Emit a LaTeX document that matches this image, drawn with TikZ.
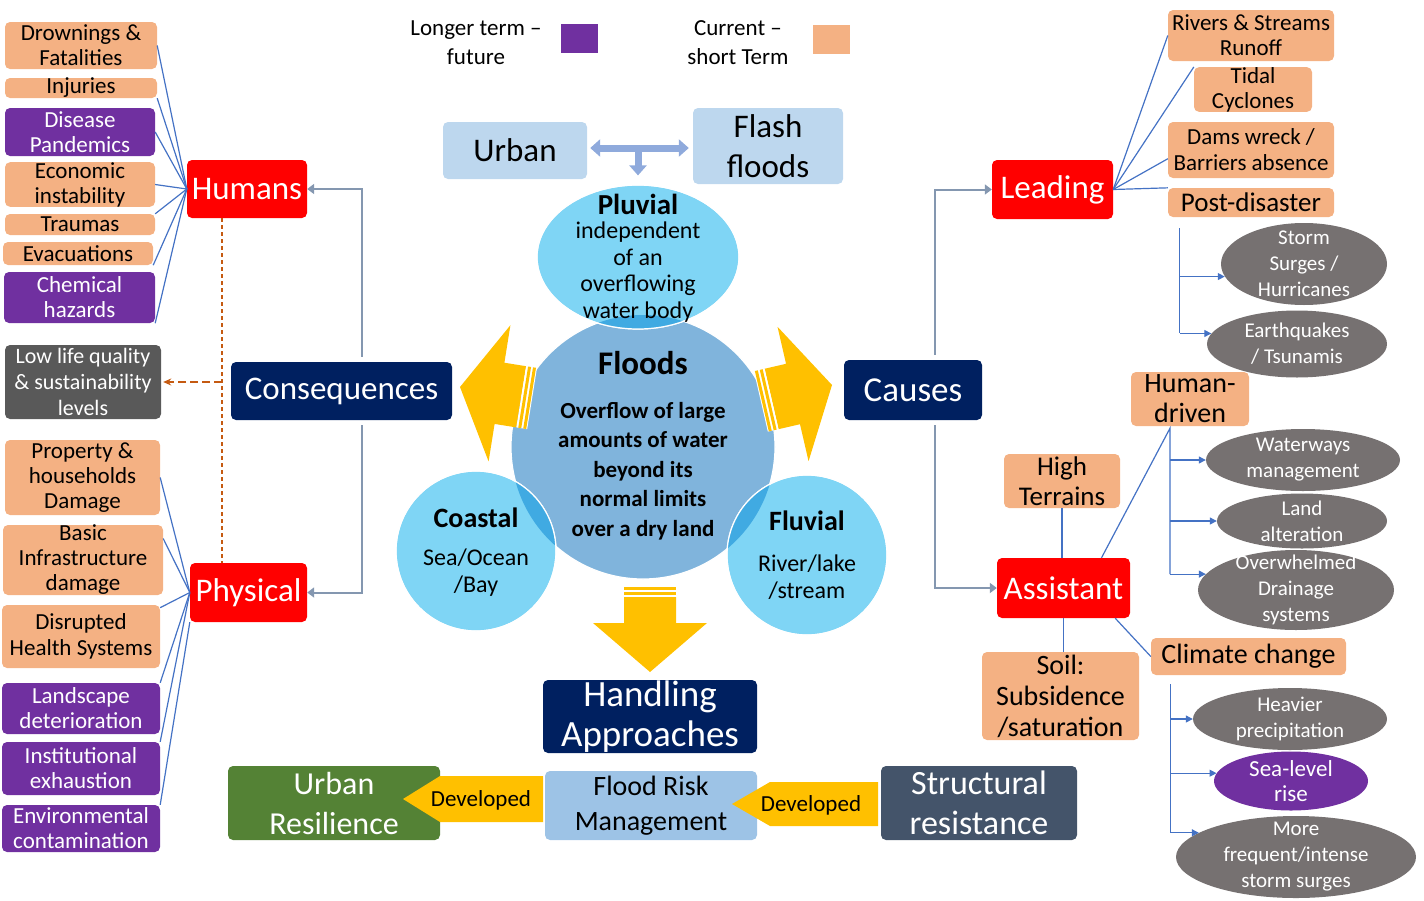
\documentclass[tikz,border=0pt]{standalone}
\usepackage{fontspec}
\setmainfont{Carlito}
\usetikzlibrary{arrows.meta,shapes.geometric}

\definecolor{curorange}{HTML}{F4B183}
\definecolor{lngpurple}{HTML}{7030A0}
\definecolor{hotred}{HTML}{FF0000}
\definecolor{deepnavy}{HTML}{002060}
\definecolor{lowgray}{HTML}{595959}
\definecolor{ellgray}{HTML}{767171}
\definecolor{resgreen}{HTML}{548235}
\definecolor{slate}{HTML}{44546A}
\definecolor{arrowyel}{HTML}{FFC000}
\definecolor{paleblue}{HTML}{BDD7EE}
\definecolor{frmblue}{HTML}{9DC3E6}
\definecolor{floodblue}{HTML}{80B4DC}
\definecolor{skyblue}{HTML}{7FD5F5}
\definecolor{overlapblue}{HTML}{40AAE2}
\definecolor{linkblue}{HTML}{4472C4}
\definecolor{linkgray}{HTML}{8497B0}
\definecolor{dashbrown}{HTML}{C55A11}
\definecolor{ufblue}{HTML}{8FAADC}

\newcommand{\fs}[2]{\fontsize{#1}{#2}\selectfont}
% yellow block arrow, tip at origin: head length, head half width, shaft half width, shaft length
\newcommand{\bigarrow}[4]{%
\fill[arrowyel] (0,0) -- (#1,-#2) -- (#1,-#3) -- (#4,-#3) -- (#4,#3) -- (#1,#3) -- (#1,#2) -- cycle;
\fill[white] (#4,-#3) rectangle ({#4+11},#3);
\fill[arrowyel] ({#4+2},-#3) rectangle ({#4+5},#3);
\fill[arrowyel] ({#4+7},-#3) rectangle ({#4+10},#3);
}

\tikzset{
box/.style={rectangle, rounded corners=5pt, inner sep=0pt, align=center},
cur/.style={box, fill=curorange, text=black, font=\fs{23}{25}},
lng/.style={box, fill=lngpurple, text=white, font=\fs{23}{25}},
hub/.style={box, fill=hotred, text=white, font=\fs{33}{40}},
head/.style={box, fill=deepnavy, text=white, font=\fs{33}{40}},
ell/.style={ellipse, inner sep=0pt, fill=ellgray},
elltxt/.style={align=center, text=white, font=\fs{21}{26}},
wet/.style={inner sep=0pt, fill=skyblue, draw=white, line width=1.2pt},
link/.style={draw=linkblue, line width=1.2pt},
blink/.style={link, -{Triangle[length=7pt,width=7pt]}},
glink/.style={draw=linkgray, line width=2pt, -{Triangle[length=7pt,width=10pt]}},
dlink/.style={draw=dashbrown, line width=1.3pt},
ufarr/.style={draw=ufblue, line width=7pt},
devtxt/.style={font=\fs{23}{25}, text=black}
}

\begin{document}
\begin{tikzpicture}[x=1pt,y=-1pt]
\useasboundingbox (0,0) rectangle (1424,900);

% legend
\node[font=\fs{23}{29}, align=center] (lglong) at (476,43) {Longer term --\\future};
\node[fill=lngpurple, minimum width=37pt, minimum height=29pt, inner sep=0pt] (sqlong) at (579.5,38.5) {};
\node[font=\fs{23}{29}, align=center] (lgcur) at (738,43) {Current --\\short Term};
\node[fill=curorange, minimum width=37pt, minimum height=29pt, inner sep=0pt] (sqcur) at (831.5,39.5) {};

% left column
\node[cur, minimum width=152pt, minimum height=47pt] (drown) at (81,45.5) {Drownings \&\\Fatalities};
\node[cur, minimum width=152pt, minimum height=20pt] (inj) at (81,88) {Injuries};
\node[lng, minimum width=150pt, minimum height=48pt] (dis) at (80,132) {Disease\\Pandemics};
\node[cur, minimum width=150pt, minimum height=43pt] (eco) at (80,184.5) {Economic\\instability};
\node[cur, minimum width=150pt, minimum height=21pt] (trau) at (80,224.5) {Traumas};
\node[cur, minimum width=150pt, minimum height=23pt] (evac) at (78,253.5) {Evacuations};
\node[lng, minimum width=151pt, minimum height=51pt] (chem) at (79.5,297.5) {Chemical\\hazards};
\node[box, fill=lowgray, text=white, font=\fs{22}{26}, minimum width=156pt, minimum height=74pt] (low) at (83,382) {Low life quality\\\& sustainability\\levels};
\node[cur, minimum width=155pt, minimum height=75pt] (prop) at (82.5,477.5) {Property \&\\households\\Damage};
\node[cur, minimum width=160pt, minimum height=70pt] (basic) at (83,560) {Basic\\Infrastructure\\damage};
\node[cur, minimum width=158pt, minimum height=63pt, font=\fs{23}{26}] (disr) at (81,636.5) {Disrupted\\Health Systems};
\node[lng, minimum width=158pt, minimum height=51pt] (land) at (81,708.5) {Landscape\\deterioration};
\node[lng, minimum width=158pt, minimum height=53pt] (inst) at (81,768.5) {Institutional\\exhaustion};
\node[lng, minimum width=158pt, minimum height=47pt] (env) at (81,828.5) {Environmental\\contamination};

\node[hub, minimum width=120pt, minimum height=58pt] (hum) at (247,189) {Humans};
\node[hub, minimum width=117pt, minimum height=59pt] (phys) at (248.5,592.5) {Physical};
\node[head, minimum width=221pt, minimum height=58pt] (cons) at (341.5,391) {Consequences};

\foreach \n in {drown.east, inj.south east, dis.east, eco.east, trau.north east, evac.south east, chem.south east}
\draw[link] (\n) -- (hum.west);
\foreach \n in {prop.east, basic.15, disr.20, land.north east, inst.north east}
\draw[link] (\n) -- (phys.west);
\draw[link] (env.north east) -- (phys.south west);

\draw[glink] ([xshift=20pt,yshift=5pt]cons.north) |- (hum.east);
\draw[glink] ([xshift=20pt,yshift=-5pt]cons.south) |- (phys.east);

\coordinate (dsh) at ([xshift=-25pt]hum.south);
\draw[dlink, dash pattern=on 4pt off 3pt] (dsh) -- (dsh |- phys.north);
\draw[dlink, dash pattern=on 8pt off 4pt, -{Stealth[length=8pt,width=7pt]}, shorten >=2pt] (dsh |- low.east) -- (low.east);

% top: urban / flash
\node[box, fill=paleblue, font=\fs{33}{40}, minimum width=144pt, minimum height=57pt] (urb) at (515,150.5) {Urban};
\node[box, fill=paleblue, font=\fs{33}{40}, minimum width=150pt, minimum height=76pt] (flash) at (768,146) {Flash\\floods};

% floods circles
\node[circle, minimum size=264pt, inner sep=0pt, fill=floodblue, draw=white, line width=1.2pt] (flood) at (643,447) {};
\node[ellipse, wet, minimum width=202pt, minimum height=144pt] (pluv) at (638,257) {};
\node[circle, wet, minimum size=160pt] (coast) at (476,551) {};
\node[circle, wet, minimum size=160pt] (fluv) at (807,555) {};
\begin{scope}
\clip (flood.center) circle[radius=132pt];
\fill[overlapblue] (pluv.center) ellipse[x radius=101pt, y radius=72pt];
\fill[overlapblue] (coast.center) circle[radius=80pt];
\fill[overlapblue] (fluv.center) circle[radius=80pt];
\end{scope}
\draw[white, line width=1.2pt] (pluv.center) ellipse[x radius=101pt, y radius=72pt];
\draw[white, line width=1.2pt] (coast.center) circle[radius=80pt];
\draw[white, line width=1.2pt] (fluv.center) circle[radius=80pt];

\coordinate (ufm) at (638,148);
\draw[ufarr, {Triangle[length=10pt,width=17pt]}-{Triangle[length=10pt,width=17pt]}, shorten <=3pt, shorten >=4pt] (urb.east |- ufm) -- (flash.west |- ufm);
\draw[ufarr, -{Triangle[length=10pt,width=17pt]}, shorten >=9pt] (ufm) -- (ufm |- pluv.north);

\begin{scope}[shift={(460,387)}, rotate=-9.1]
\bigarrow{40}{69}{31}{62}
\end{scope}
\begin{scope}[shift={(832,385)}, rotate=193]
\bigarrow{40}{69}{31}{62}
\end{scope}
\begin{scope}[shift={(650,672)}, rotate=90]
\bigarrow{49}{57}{26}{75}
\end{scope}

\node[font=\bfseries\fs{29}{32}] (pluv-t) at (638,204) {Pluvial};
\node[font=\fs{24}{26.5}, align=center] (pluv-d) at (638,272) {independent\\of an\\overflowing\\water body};
\node[font=\bfseries\fs{33}{40}] (flood-t) at (643,363) {Floods};
\node[font=\bfseries\fs{23}{29.5}, align=center] (flood-d) at (643,471) {Overflow of large\\amounts of water\\beyond its\\normal limits\\over a dry land};
\node[font=\bfseries\fs{28}{32}] (coast-t) at (476,518) {Coastal};
\node[font=\fs{24}{27}, align=center] (coast-d) at (476,573) {Sea/Ocean\\/Bay};
\node[font=\bfseries\fs{28}{32}] (fluv-t) at (807,521) {Fluvial};
\node[font=\fs{24}{27}, align=center] (fluv-d) at (807,577) {River/lake\\/stream};

% handling approaches
\node[head, font=\fs{37}{40}, minimum width=214pt, minimum height=73pt] (hand) at (650,716.5) {Handling\\Approaches};
\node[box, fill=resgreen, text=white, font=\fs{32}{40}, minimum width=212pt, minimum height=74pt] (resil) at (334,803) {Urban\\Resilience};
\node[box, fill=frmblue, font=\fs{28}{35}, minimum width=212pt, minimum height=69pt] (frm) at (651,805.5) {Flood Risk\\Management};
\fill[arrowyel] (403,799) -- (440,776) -- (543,776) -- (543,822) -- (440,822) -- cycle;
\node[devtxt] (dev1) at (481,800) {Developed};
\fill[arrowyel] (732,804) -- (770,782) -- (878,782) -- (878,826) -- (770,826) -- cycle;
\node[devtxt] (dev2) at (811,805) {Developed};
\node[box, fill=slate, text=white, font=\fs{34}{40}, minimum width=196pt, minimum height=74pt] (struct) at (979,803) {Structural\\resistance};

% causes
\node[head, font=\fs{35}{40}, minimum width=138pt, minimum height=60pt] (causes) at (913,390) {Causes};
\node[hub, minimum width=121pt, minimum height=59pt] (lead) at (1052.5,189.5) {Leading};
\node[hub, minimum width=133pt, minimum height=60pt] (assist) at (1063.5,588) {Assistant};
\draw[glink] ([xshift=22pt,yshift=5pt]causes.north) |- (lead.west);
\draw[glink] ([xshift=22pt,yshift=-5pt]causes.south) |- (assist.west);

\node[cur, minimum width=166pt, minimum height=51pt, font=\fs{23}{25}] (rivers) at (1251,35.5) {Rivers \& Streams\\Runoff};
\node[cur, minimum width=118pt, minimum height=43pt, font=\fs{23}{25}] (tidal) at (1253,89.5) {Tidal\\Cyclones};
\node[cur, minimum width=166pt, minimum height=56pt, font=\fs{23}{26}] (dams) at (1251,150) {Dams wreck /\\Barriers absence};
\node[cur, minimum width=166pt, minimum height=29pt, font=\fs{27}{30}] (post) at (1251,202.5) {Post-disaster};
\foreach \n in {rivers.west, tidal.north west, dams.186, post.170}
\draw[link] (lead.east) -- (\n);

\node[ell, minimum width=166pt, minimum height=82pt] (storm) at (1304,264) {};
\node[elltxt] (storm-t) at (storm) {Storm\\Surges /\\Hurricanes};
\node[ell, minimum width=180pt, minimum height=67pt] (eq) at (1297,344) {};
\node[elltxt] (eq-t) at (eq) {Earthquakes\\/ Tsunamis};
\coordinate (pdb) at ([xshift=12pt,yshift=-11pt]post.south west);
\draw[link] (pdb) -- (pdb |- eq.173);
\draw[blink] (pdb |- storm.189) -- (storm.189);
\draw[blink] (pdb |- eq.173) -- (eq.173);

\node[cur, minimum width=118pt, minimum height=54pt, font=\fs{28}{30}] (hd) at (1190,399) {Human-\\driven};
\node[cur, minimum width=116pt, minimum height=54pt, font=\fs{27}{30}] (high) at (1062,481) {High\\Terrains};
\node[cur, minimum width=157pt, minimum height=88pt, font=\fs{28}{31}] (soil) at (1060.5,696) {Soil:\\Subsidence\\/saturation};
\node[cur, minimum width=195pt, minimum height=37pt, font=\fs{28}{30}] (clim) at (1248.5,656.5) {Climate change};

\node[ell, minimum width=194pt, minimum height=62pt] (wat) at (1303,460) {};
\node[elltxt] (wat-t) at (wat) {Waterways\\management};
\node[ell, minimum width=170pt, minimum height=55pt] (landalt) at (1302,521) {};
\node[elltxt] (landalt-t) at (landalt) {Land\\alteration};
\node[ell, minimum width=196pt, minimum height=80pt] (over) at (1296,590) {};
\node[elltxt] (over-t) at (over) {Overwhelmed\\Drainage\\systems};

\node[ell, minimum width=194pt, minimum height=62pt] (heavy) at (1290,719) {};
\node[elltxt] (heavy-t) at (heavy) {Heavier\\precipitation};
\node[ell, fill=lngpurple, minimum width=154pt, minimum height=59pt] (sea) at (1291,781) {};
\node[elltxt, font=\fs{23}{25}] (sea-t) at (sea) {Sea-level\\rise};
\node[ell, minimum width=240pt, minimum height=82pt] (more) at (1296,857) {};
\node[elltxt] (more-t) at (more) {More\\frequent/intense\\storm surges};

\draw[link] (high.south) -- (high.south |- assist.north);
\draw[link] (assist.south) -- (assist.south |- soil.north);
\draw[link] ([xshift=-15pt]assist.south east) -- (clim.west);

\coordinate (hdb) at ([xshift=-20pt,yshift=-2pt]hd.south);
\draw[link] ([xshift=38pt]assist.north) -- (hdb) -- (hdb |- over.170);
\draw[blink] (hdb |- wat.west) -- (wat.west);
\draw[blink] (hdb |- landalt.west) -- (landalt.west);
\draw[blink] (hdb |- over.170) -- (over.170);

\coordinate (ccb) at ([xshift=20pt,yshift=-9pt]clim.south west);
\draw[link] (ccb) -- (ccb |- more.166);
\draw[blink] (ccb |- heavy.west) -- (heavy.west);
\draw[blink] (ccb |- sea.174) -- (sea.174);
\draw[blink] (ccb |- more.166) -- (more.166);
\end{tikzpicture}
\end{document}
